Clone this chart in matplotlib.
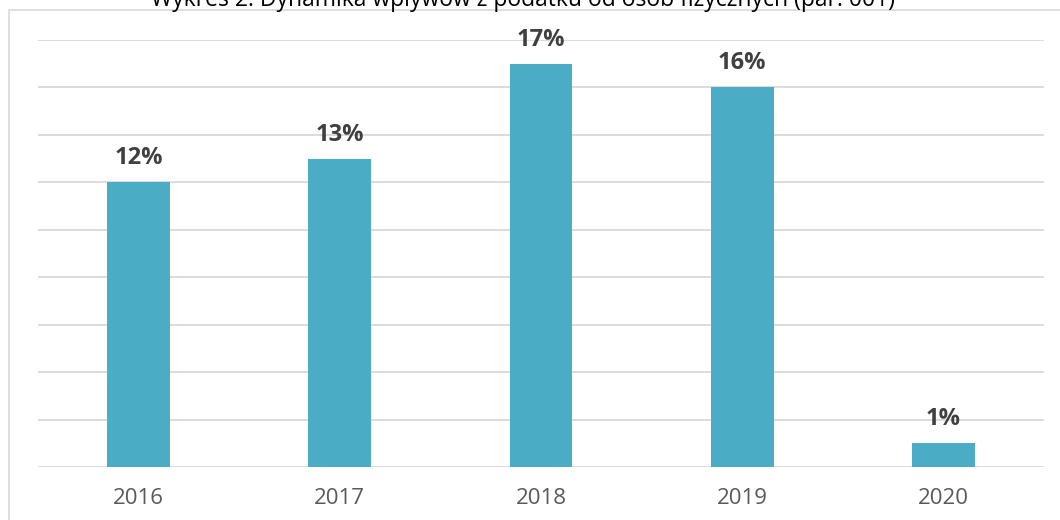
import matplotlib
matplotlib.use("Agg")
import matplotlib.pyplot as plt
from matplotlib.patches import Rectangle

years = ["2016", "2017", "2018", "2019", "2020"]
values = [12, 13, 17, 16, 1]
labels = ["12%", "13%", "17%", "16%", "1%"]
title = "Wykres 2. Dynamika wpływów z podatku od osób fizycznych (par. 001)"

W, H = 1060, 520
fig = plt.figure(figsize=(W / 100, H / 100), dpi=100)
ax = fig.add_axes([38 / W, 53 / H, (1044 - 38) / W, (467 - 40) / H])

x = range(len(years))
ax.bar(x, values, width=0.313, color="#4BACC6", zorder=3)
ax.set_xlim(-0.5, len(years) - 0.5)
ax.set_ylim(0, 18)
ax.set_yticks(range(0, 19, 2))
ax.yaxis.grid(True, color="#D9D9D9", lw=1.3, zorder=0)
ax.set_yticklabels([])
ax.tick_params(axis="y", length=0)
ax.set_xticks(list(x))
ax.set_xticklabels(years, fontsize=16, color="#595959", family="Open Sans")
ax.tick_params(axis="x", length=0, pad=15)
for s in ax.spines.values():
    s.set_visible(False)

for xi, v, lab in zip(x, values, labels):
    ax.annotate(lab, (xi, v), xytext=(0, 12), textcoords="offset pixels",
                ha="center", va="bottom", fontsize=17, fontweight="bold",
                color="#404040", family="Open Sans")

fig.text(523 / W, 1 - 6 / H, title, ha="center", va="baseline",
         fontsize=16.5, color="black", family="Open Sans")

fig.patches.append(Rectangle((8.5 / W, -0.1), 1.2, 1.1 - 10.5 / H,
                             transform=fig.transFigure, fill=False,
                             edgecolor="#D9D9D9", lw=1.2))

fig.savefig("out.png", dpi=100)
